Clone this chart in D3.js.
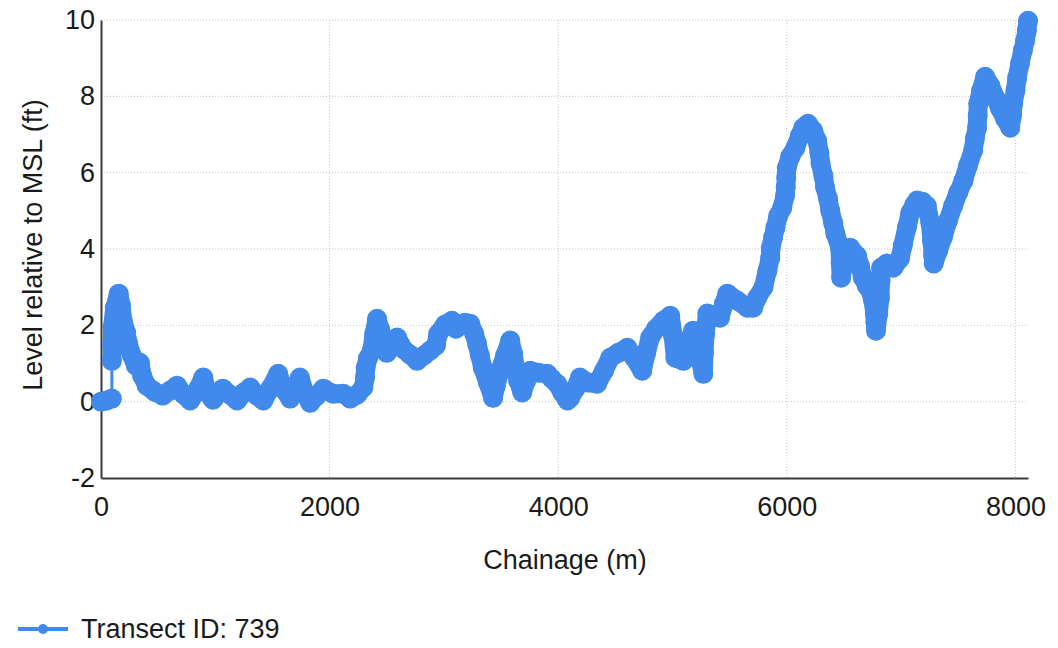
<!DOCTYPE html>
<html>
<head>
<meta charset="utf-8">
<script src="https://cdn.jsdelivr.net/npm/d3@7/dist/d3.min.js"></script>
<style>
  body { margin: 0; background: #fff; }
  text { font-family: "Liberation Sans", Arial, sans-serif; fill: #1a1a1a; }
</style>
</head>
<body>
<script>
// Transect profile, chainage (m) vs level (ft)
const chainage = [
  0, 50, 95, 95, 98, 101, 120, 155, 175, 190, 220, 235, 270, 305, 340, 360, 400, 470, 540, 605,
  665, 725, 780, 840, 895, 930, 980, 1065, 1130, 1190, 1250, 1305, 1365, 1420, 1480, 1550, 1595, 1655, 1740, 1785,
  1830, 1890, 1945, 2030, 2120, 2180, 2240, 2295, 2310, 2315, 2335, 2370, 2390, 2415, 2440, 2465, 2485, 2500, 2545, 2590,
  2615, 2640, 2705, 2765, 2825, 2880, 2930, 2950, 3010, 3070, 3105, 3140, 3185, 3230, 3265, 3290, 3315, 3340, 3385, 3430,
  3455, 3490, 3535, 3580, 3605, 3625, 3650, 3685, 3720, 3755, 3825, 3905, 3945, 3990, 4035, 4080, 4105, 4150, 4190, 4260,
  4340, 4400, 4455, 4525, 4605, 4665, 4735, 4770, 4805, 4855, 4920, 4980, 5005, 5025, 5095, 5135, 5180, 5225, 5270, 5275,
  5285, 5305, 5355, 5415, 5450, 5480, 5565, 5655, 5705, 5740, 5795, 5830, 5855, 5860, 5880, 5900, 5925, 5960, 5985, 5990,
  5995, 6000, 6030, 6075, 6115, 6145, 6185, 6230, 6265, 6285, 6295, 6320, 6335, 6360, 6380, 6405, 6425, 6465, 6470, 6475,
  6510, 6555, 6615, 6640, 6665, 6700, 6730, 6755, 6770, 6775, 6780, 6800, 6815, 6820, 6825, 6875, 6930, 6990, 7015, 7050,
  7080, 7115, 7140, 7185, 7225, 7255, 7270, 7280, 7285, 7325, 7365, 7410, 7455, 7500, 7545, 7585, 7630, 7645, 7665, 7670,
  7675, 7700, 7735, 7780, 7825, 7865, 7910, 7955, 7970, 7980, 8000, 8015, 8040, 8065, 8085, 8100, 8110
];
const level = [
  0, 0.03, 0.08, 1.07, 1.47, 1.94, 2.46, 2.83, 2.52, 2.12, 1.81, 1.55, 1.21, 0.94, 1.02, 0.68, 0.42, 0.26, 0.16, 0.29,
  0.42, 0.18, 0.03, 0.29, 0.63, 0.24, 0.05, 0.34, 0.18, 0.03, 0.24, 0.37, 0.16, 0.03, 0.34, 0.73, 0.34, 0.08, 0.63, 0.21,
  -0.03, 0.16, 0.34, 0.21, 0.21, 0.08, 0.18, 0.37, 0.63, 0.89, 1.13, 1.34, 1.78, 2.17, 1.91, 1.68, 1.47, 1.28, 1.47, 1.68,
  1.52, 1.39, 1.23, 1.07, 1.21, 1.34, 1.47, 1.78, 2.02, 2.12, 1.91, 1.99, 2.07, 2.04, 1.78, 1.52, 1.21, 0.89, 0.5, 0.1,
  0.42, 0.81, 1.21, 1.6, 1.26, 0.89, 0.55, 0.24, 0.55, 0.81, 0.76, 0.73, 0.6, 0.47, 0.24, 0.03, 0.1, 0.34, 0.63, 0.5,
  0.47, 0.81, 1.15, 1.28, 1.41, 1.15, 0.81, 1.28, 1.68, 1.91, 2.12, 2.25, 1.73, 1.15, 1.07, 1.47, 1.86, 1.34, 0.73, 1.26,
  1.78, 2.31, 2.25, 2.2, 2.57, 2.83, 2.65, 2.46, 2.46, 2.72, 2.99, 3.43, 3.77, 4.03, 4.3, 4.56, 4.87, 5.08, 5.4, 5.61,
  5.87, 6.13, 6.42, 6.65, 6.97, 7.18, 7.28, 7.1, 6.84, 6.52, 6.24, 5.92, 5.61, 5.32, 5.0, 4.69, 4.4, 4.03, 3.64, 3.25,
  3.82, 4.03, 3.82, 3.56, 3.25, 3.04, 2.91, 2.65, 2.31, 2.07, 1.86, 2.31, 2.72, 3.17, 3.51, 3.62, 3.51, 3.75, 4.09, 4.56,
  4.95, 5.16, 5.27, 5.24, 5.13, 4.69, 4.22, 3.82, 3.62, 3.96, 4.3, 4.74, 5.13, 5.48, 5.79, 6.18, 6.58, 6.89, 7.18, 7.49,
  7.81, 8.15, 8.51, 8.28, 7.96, 7.68, 7.41, 7.18, 7.49, 7.81, 8.15, 8.49, 8.86, 9.2, 9.46, 9.72, 9.98
];
const xTicks = [0, 2000, 4000, 6000, 8000];
const yTicks = [-2, 0, 2, 4, 6, 8, 10];
const seriesName = "Transect ID: 739";
const xTitle = "Chainage (m)";
const yTitle = "Level relative to MSL (ft)";

const W = 1058, H = 648;
const mLeft = 101, mRight = 1028, mTop = 20, mBottom = 478;
const blue = "#418aeb";
const fontSize = "27px";

const svg = d3.select("body").append("svg")
  .attr("width", W)
  .attr("height", H);

const x = d3.scaleLinear().domain([0, 8110]).range([mLeft, mRight]);
const y = d3.scaleLinear().domain([-2, 10]).range([mBottom, mTop]);

// dotted grid
svg.append("g").selectAll("line")
  .data(xTicks.filter(d => d > 0))
  .join("line")
  .attr("x1", d => x(d)).attr("x2", d => x(d))
  .attr("y1", mTop).attr("y2", mBottom)
  .attr("stroke", "#c4c4c4").attr("stroke-width", 1)
  .attr("stroke-dasharray", "1,2");

svg.append("g").selectAll("line")
  .data(yTicks.filter(d => d > -2))
  .join("line")
  .attr("x1", mLeft).attr("x2", mRight)
  .attr("y1", d => y(d)).attr("y2", d => y(d))
  .attr("stroke", "#c4c4c4").attr("stroke-width", 1)
  .attr("stroke-dasharray", "1,2");

// axes
const xAxis = svg.append("g")
  .attr("transform", "translate(0," + mBottom + ")")
  .call(d3.axisBottom(x).tickValues(xTicks).tickFormat(d => String(d)).tickSize(0).tickPadding(19));
const yAxis = svg.append("g")
  .attr("transform", "translate(" + mLeft + ",0)")
  .call(d3.axisLeft(y).tickValues(yTicks).tickFormat(d => String(d)).tickSize(0).tickPadding(6));

[xAxis, yAxis].forEach(function(g) {
  g.select(".domain").attr("stroke", "#3a3a3a").attr("stroke-width", 2);
  g.selectAll("text")
    .style("font-family", "'Liberation Sans', Arial, sans-serif")
    .style("font-size", fontSize)
    .attr("fill", "#1a1a1a");
});

// axis titles
svg.append("text")
  .attr("x", 565).attr("y", 569)
  .attr("text-anchor", "middle")
  .style("font-size", fontSize)
  .text(xTitle);

svg.append("text")
  .attr("transform", "translate(33,245) rotate(-90)")
  .attr("text-anchor", "middle")
  .attr("dy", "0.35em")
  .style("font-size", fontSize)
  .text(yTitle);

// series
const pts = chainage.map((c, i) => ({ x: c, y: level[i] }));
const line = d3.line().x(d => x(d.x)).y(d => y(d.y));

const plot = svg.append("g");
// the dense markers read as one thick band; the jump near 95 m stays a thin line
[pts.slice(0, 3), pts.slice(3)].forEach(function(part) {
  plot.append("path")
    .datum(part)
    .attr("fill", "none")
    .attr("stroke", blue)
    .attr("stroke-width", 19)
    .attr("stroke-linejoin", "round")
    .attr("stroke-linecap", "round")
    .attr("d", line);
});
plot.append("path")
  .datum(pts)
  .attr("fill", "none")
  .attr("stroke", blue)
  .attr("stroke-width", 3)
  .attr("d", line);

plot.selectAll("circle")
  .data(pts)
  .join("circle")
  .attr("cx", d => x(d.x))
  .attr("cy", d => y(d.y))
  .attr("r", 10)
  .attr("fill", blue);

// legend
const legend = svg.append("g");
legend.append("line")
  .attr("x1", 18).attr("x2", 68)
  .attr("y1", 629).attr("y2", 629)
  .attr("stroke", blue).attr("stroke-width", 4);
legend.append("circle")
  .attr("cx", 43).attr("cy", 629).attr("r", 5)
  .attr("fill", blue);
legend.append("text")
  .attr("x", 81).attr("y", 638)
  .style("font-size", fontSize)
  .text(seriesName);
</script>
</body>
</html>
